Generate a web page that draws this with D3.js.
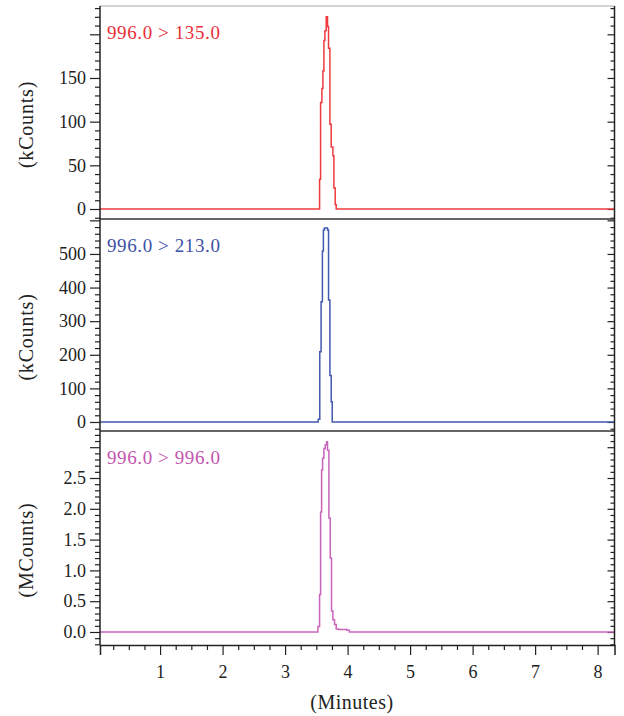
<!DOCTYPE html>
<html>
<head>
<meta charset="utf-8">
<script src="https://cdn.jsdelivr.net/npm/d3@7"></script>
<style>
  body { margin: 0; background: #fff; }
  text { font-family: "Liberation Serif", "DejaVu Serif", serif; }
</style>
</head>
<body>
<div id="chart"></div>
<script>
// x axis
const xTickLabels = [1, 2, 3, 4, 5, 6, 7, 8];

// 996.0 > 135.0 (kCounts)
const redTime  = [0.039, 3.552, 3.568, 3.589, 3.605, 3.621, 3.637, 3.658, 3.679, 3.695, 3.717, 3.738, 3.765, 3.781, 3.802, 3.818, 8.27];
const redValue = [0, 34, 122, 138, 158, 193, 204, 220, 209, 184, 97, 71, 61, 24, 5, 0, 0];
const redTicks = [0, 50, 100, 150];

// 996.0 > 213.0 (kCounts)
const blueTime  = [0.039, 3.53, 3.555, 3.576, 3.597, 3.613, 3.629, 3.66, 3.679, 3.695, 3.717, 3.738, 3.754, 8.27];
const blueValue = [0, 8, 209, 358, 509, 571, 577, 577, 571, 363, 138, 60, 0, 0];
const blueTicks = [0, 100, 200, 300, 400, 500];

// 996.0 > 996.0 (MCounts)
const pinkTime  = [0.039, 3.525, 3.552, 3.568, 3.584, 3.600, 3.621, 3.643, 3.664, 3.679, 3.701, 3.722, 3.743, 3.765, 3.791, 3.818, 3.856, 3.99, 4.03, 8.27];
const pinkValue = [0, 0.09, 0.61, 1.95, 2.63, 2.82, 2.98, 3.04, 3.09, 2.95, 1.85, 1.2, 0.34, 0.2, 0.12, 0.05, 0.04, 0.03, 0, 0];
const pinkTicks = [0, 0.5, 1.0, 1.5, 2.0, 2.5];

const width = 624, height = 716;
const left = 100, right = 614.5;

const svg = d3.select("#chart").append("svg")
  .attr("width", width)
  .attr("height", height);

const x = d3.scaleLinear().domain([0.039, 8.27]).range([left, right]);

const panels = [
  { name: "996.0 > 135.0", unit: "(kCounts)", time: redTime, value: redValue, ticks: redTicks,
    color: "#ee3b40", text: "#e8303a", domain: [-11.45, 232.4], top: 6, bottom: 219,
    step: 10, major: 50, fmt: d3.format("d") },
  { name: "996.0 > 213.0", unit: "(kCounts)", time: blueTime, value: blueValue, ticks: blueTicks,
    color: "#4258ad", text: "#3d51a6", domain: [-26.8, 604], top: 219, bottom: 431,
    step: 20, major: 100, fmt: d3.format("d") },
  { name: "996.0 > 996.0", unit: "(MCounts)", time: pinkTime, value: pinkValue, ticks: pinkTicks,
    color: "#c864b9", text: "#c455b0", domain: [-0.211, 3.263], top: 431, bottom: 645,
    step: 0.1, major: 0.5, fmt: d3.format(".1f") }
];

panels.forEach((p, i) => {
  const y = d3.scaleLinear().domain(p.domain).range([p.bottom, p.top]);
  const g = svg.append("g");

  const all = d3.range(Math.ceil(p.domain[0] / p.step), Math.floor(p.domain[1] / p.step) + 1)
    .map(k => +(k * p.step).toFixed(3));
  const isMajor = v => Math.abs(v / p.major - Math.round(v / p.major)) < 1e-6;
  const majors = all.filter(isMajor);
  const minors = all.filter(v => !isMajor(v));

  // left axis: minor, major, labels
  g.append("g").attr("transform", `translate(${left},0)`)
    .call(d3.axisLeft(y).tickValues(minors).tickSize(5).tickFormat(""))
    .call(a => a.select(".domain").remove());
  g.append("g").attr("transform", `translate(${left},0)`)
    .call(d3.axisLeft(y).tickValues(majors).tickSize(10)
      .tickFormat(d => p.ticks.some(t => Math.abs(t - d) < 1e-6) ? p.fmt(d) : ""))
    .call(a => a.select(".domain").remove())
    .call(a => a.selectAll("text").attr("font-size", 18).attr("fill", "#222")
      .attr("x", -14).attr("font-family", "Liberation Serif"));

  // right axis, ticks inward
  g.append("g").attr("transform", `translate(${right},0)`)
    .call(d3.axisLeft(y).tickValues(minors).tickSize(4).tickFormat(""))
    .call(a => a.select(".domain").remove());
  g.append("g").attr("transform", `translate(${right},0)`)
    .call(d3.axisLeft(y).tickValues(majors).tickSize(7).tickFormat(""))
    .call(a => a.select(".domain").remove());

  g.selectAll(".tick line").attr("stroke", "#222").attr("stroke-width", 1.2);

  // trace
  const pts = p.time.map((t, j) => [t, p.value[j]]);
  g.append("path")
    .datum(pts)
    .attr("fill", "none")
    .attr("stroke", p.color)
    .attr("stroke-width", 1.5)
    .attr("d", d3.line().x(d => x(d[0])).y(d => y(d[1])).curve(d3.curveStepAfter));

  // trace name
  g.append("text")
    .attr("x", 107)
    .attr("y", p.top + 33)
    .attr("font-size", 19)
    .attr("letter-spacing", 0.6)
    .attr("fill", p.text)
    .text(p.name);

  // unit label
  g.append("text")
    .attr("transform", `translate(33,${(p.top + p.bottom) / 2 + 12}) rotate(-90)`)
    .attr("text-anchor", "middle")
    .attr("font-size", 20)
    .attr("letter-spacing", 0.8)
    .attr("fill", "#222")
    .text(p.unit);

  // separator below panel
  if (i < 2) {
    svg.append("line")
      .attr("x1", left).attr("x2", right)
      .attr("y1", p.bottom).attr("y2", p.bottom)
      .attr("stroke", "#333").attr("stroke-width", 1.5);
  }
});

// frame
svg.append("line").attr("x1", left).attr("x2", right).attr("y1", 6).attr("y2", 6)
  .attr("stroke", "#aaa").attr("stroke-width", 1.2);
svg.append("line").attr("x1", left).attr("x2", left).attr("y1", 6).attr("y2", 645)
  .attr("stroke", "#222").attr("stroke-width", 1.5);
svg.append("line").attr("x1", right).attr("x2", right).attr("y1", 6).attr("y2", 645)
  .attr("stroke", "#222").attr("stroke-width", 1.5);

// x axis
const xMinor = d3.range(1, 33).map(k => k * 0.25).filter(v => v % 1 !== 0);
svg.append("g").attr("transform", "translate(0,645)")
  .call(d3.axisBottom(x).tickValues(xMinor).tickSize(5).tickFormat(""))
  .call(a => a.select(".domain").remove());
const xAxis = svg.append("g").attr("transform", "translate(0,645)")
  .call(d3.axisBottom(x).tickValues(xTickLabels).tickSize(10).tickFormat(d3.format("d")))
  .call(a => a.select(".domain").attr("stroke", "#222").attr("stroke-width", 1.5));
xAxis.selectAll("text").attr("font-size", 18).attr("fill", "#222").attr("y", 20)
  .attr("font-family", "Liberation Serif");
svg.selectAll(".tick line").attr("stroke", "#222").attr("stroke-width", 1.2);

svg.append("text")
  .attr("x", 352)
  .attr("y", 709)
  .attr("text-anchor", "middle")
  .attr("font-size", 20)
  .attr("letter-spacing", 0.5)
  .attr("fill", "#222")
  .text("(Minutes)");
</script>
</body>
</html>
